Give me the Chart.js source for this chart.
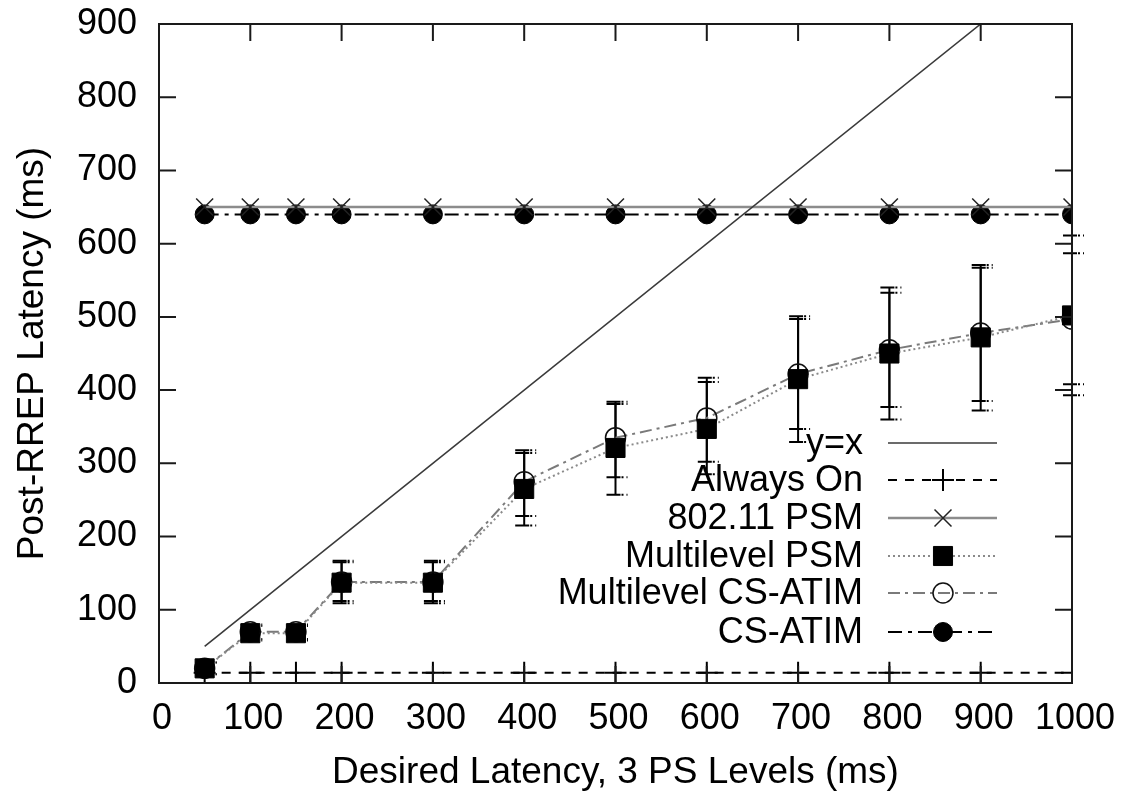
<!DOCTYPE html>
<html><head><meta charset="utf-8">
<script src="https://cdn.jsdelivr.net/npm/chart.js@4/dist/chart.umd.min.js"></script>
<style>html,body{margin:0;padding:0;background:#fff;} #wrap{width:1124px;height:801px;position:relative;}</style>
</head><body><div id="wrap"><canvas id="c" width="1124" height="801"></canvas></div>
<script>
// ---- data ----
const xValues   = [50, 100, 150, 200, 300, 400, 500, 600, 700, 800, 900, 1000];
const yxX       = [50, 900];
const yxY       = [50, 900];
const alwaysOn  = [14, 14, 14, 14, 14, 14, 14, 14, 14, 14, 14, 14];
const psm80211  = [650, 650, 650, 650, 650, 650, 650, 650, 650, 650, 650, 650];
const mlPsm     = [20, 68, 68, 137, 137, 265, 321, 347, 415, 450, 472, 502];
const mlPsmLow  = [12, 58, 58, 109, 109, 215, 257, 285, 329, 360, 372, 393];
const mlPsmHigh = [28, 78, 78, 165, 165, 314, 381, 411, 497, 533, 567, 587];
const mlCs      = [20, 70, 70, 138, 138, 275, 335, 362, 422, 455, 478, 497];
const mlCsLow   = [12, 60, 60, 112, 112, 228, 281, 302, 347, 377, 385, 408];
const mlCsHigh  = [28, 80, 80, 167, 167, 318, 384, 417, 501, 540, 571, 611];
const csAtim    = [640, 640, 640, 640, 640, 640, 640, 640, 640, 640, 640, 640];
const xTicks    = [0, 100, 200, 300, 400, 500, 600, 700, 800, 900, 1000];
const yTicks    = [0, 100, 200, 300, 400, 500, 600, 700, 800, 900];
const seriesNames = ['y=x', 'Always On', '802.11 PSM', 'Multilevel PSM', 'Multilevel CS-ATIM', 'CS-ATIM'];

const FONT = "'Liberation Sans', Arial, Helvetica, sans-serif";
const pts = (xs, ys) => xs.map((x, i) => ({x: x, y: ys[i]}));

const datasets = [
  {label: seriesNames[0], data: pts(yxX, yxY), borderColor: '#3a3a3a', borderWidth: 1.6, pointRadius: 0, gpStyle: 'none'},
  {label: seriesNames[1], data: pts(xValues, alwaysOn), borderColor: '#000', borderWidth: 2, borderDash: [9, 8],
   pointStyle: 'cross', pointRadius: 11, pointBorderColor: '#000', pointBorderWidth: 2, gpStyle: 'cross'},
  {label: seriesNames[2], data: pts(xValues, psm80211), borderColor: '#8c8c8c', borderWidth: 2.5,
   pointStyle: 'crossRot', pointRadius: 12, pointBorderColor: '#222', pointBorderWidth: 1.5, gpStyle: 'crossRot'},
  {label: seriesNames[3], data: pts(xValues, mlPsm), borderColor: '#8a8a8a', borderWidth: 2, borderDash: [2, 3],
   pointStyle: 'rect', pointRadius: 13.5, pointBackgroundColor: '#000', pointBorderColor: '#000', pointBorderWidth: 1, gpStyle: 'rect'},
  {label: seriesNames[4], data: pts(xValues, mlCs), borderColor: '#7a7a7a', borderWidth: 2, borderDash: [12, 5, 3, 5],
   pointStyle: 'circle', pointRadius: 10, pointBackgroundColor: 'rgba(0,0,0,0)', pointBorderColor: '#111', pointBorderWidth: 1.5, gpStyle: 'ocircle'},
  {label: seriesNames[5], data: pts(xValues, csAtim), borderColor: '#000', borderWidth: 2, borderDash: [14, 6, 4, 6],
   pointStyle: 'circle', pointRadius: 9.5, pointBackgroundColor: '#000', pointBorderColor: '#000', pointBorderWidth: 1, gpStyle: 'fcircle'}
];
datasets.forEach(d => { d.fill = false; d.tension = 0; d.pointHoverRadius = d.pointRadius; });

const errorSets = [
  {low: mlPsmLow, high: mlPsmHigh},
  {low: mlCsLow, high: mlCsHigh}
];

const errorBarPlugin = {
  id: 'gpErrorBars',
  beforeDatasetsDraw(chart) {
    const ctx = chart.ctx, xs = chart.scales.x, ys = chart.scales.y;
    ctx.save();
    ctx.strokeStyle = '#000';
    ctx.lineWidth = 2;
    errorSets.forEach(es => {
      xValues.forEach((xv, i) => {
        const px = xs.getPixelForValue(xv);
        const y1 = ys.getPixelForValue(es.low[i]);
        const y2 = ys.getPixelForValue(es.high[i]);
        ctx.setLineDash([]);
        ctx.beginPath();
        ctx.moveTo(px, y1); ctx.lineTo(px, y2);
        ctx.moveTo(px - 9, y1); ctx.lineTo(px + 5, y1);
        ctx.moveTo(px - 9, y2); ctx.lineTo(px + 5, y2);
        ctx.stroke();
        ctx.setLineDash([2, 3]);
        ctx.beginPath();
        ctx.moveTo(px + 6, y1); ctx.lineTo(px + 12, y1);
        ctx.moveTo(px + 6, y2); ctx.lineTo(px + 12, y2);
        ctx.stroke();
      });
    });
    ctx.restore();
  }
};

function drawMarker(ctx, style, x, y, ds) {
  ctx.save();
  ctx.setLineDash([]);
  ctx.lineWidth = ds.pointBorderWidth || 1.5;
  ctx.strokeStyle = ds.pointBorderColor || '#000';
  ctx.fillStyle = ds.pointBackgroundColor || '#000';
  const r = ds.pointRadius;
  ctx.beginPath();
  if (style === 'cross') {
    ctx.moveTo(x - r, y); ctx.lineTo(x + r, y); ctx.moveTo(x, y - r); ctx.lineTo(x, y + r); ctx.stroke();
  } else if (style === 'crossRot') {
    const o = r * Math.SQRT1_2;
    ctx.moveTo(x - o, y - o); ctx.lineTo(x + o, y + o); ctx.moveTo(x - o, y + o); ctx.lineTo(x + o, y - o); ctx.stroke();
  } else if (style === 'rect') {
    const s = r * Math.SQRT1_2;
    ctx.rect(x - s, y - s, 2 * s, 2 * s); ctx.fill(); ctx.stroke();
  } else if (style === 'ocircle') {
    ctx.arc(x, y, r, 0, Math.PI * 2); ctx.stroke();
  } else if (style === 'fcircle') {
    ctx.arc(x, y, r, 0, Math.PI * 2); ctx.fill(); ctx.stroke();
  }
  ctx.restore();
}

const framePlugin = {
  id: 'gpFrame',
  afterDraw(chart) {
    const ctx = chart.ctx, a = chart.chartArea, xs = chart.scales.x, ys = chart.scales.y;
    ctx.save();
    ctx.strokeStyle = '#1a1a1a';
    ctx.lineWidth = 2;
    ctx.setLineDash([]);
    ctx.strokeRect(a.left, a.top, a.right - a.left, a.bottom - a.top);
    ctx.beginPath();
    const L = 17;
    xTicks.forEach(v => {
      const p = xs.getPixelForValue(v);
      ctx.moveTo(p, a.bottom); ctx.lineTo(p, a.bottom - L);
      ctx.moveTo(p, a.top); ctx.lineTo(p, a.top + L);
    });
    yTicks.forEach(v => {
      const p = ys.getPixelForValue(v);
      ctx.moveTo(a.left, p); ctx.lineTo(a.left + L, p);
      ctx.moveTo(a.right, p); ctx.lineTo(a.right - L, p);
    });
    ctx.stroke();

    // legend (gnuplot style)
    const rows = [443, 480, 518, 556, 593, 632];
    const textRight = 863, lineL = 888, lineR = 997, mk = 943;
    ctx.font = '36px ' + FONT;
    ctx.textAlign = 'right';
    ctx.textBaseline = 'middle';
    chart.data.datasets.forEach((ds, i) => {
      const y = rows[i];
      ctx.fillStyle = '#000';
      ctx.fillText(ds.label, textRight, y + 1);
      ctx.save();
      ctx.strokeStyle = ds.borderColor;
      ctx.lineWidth = ds.borderWidth;
      ctx.setLineDash(ds.borderDash || []);
      ctx.beginPath(); ctx.moveTo(lineL, y); ctx.lineTo(lineR, y); ctx.stroke();
      ctx.restore();
      if (ds.gpStyle !== 'none') drawMarker(ctx, ds.gpStyle, mk, y, ds);
    });
    ctx.restore();
  }
};

new Chart(document.getElementById('c'), {
  type: 'line',
  data: {datasets: datasets},
  options: {
    responsive: false,
    animation: false,
    events: [],
    layout: {padding: {top: 24, right: 52, bottom: 0, left: 0}},
    plugins: {legend: {display: false}, tooltip: {enabled: false}},
    scales: {
      x: {
        type: 'linear', min: 0, max: 1000,
        afterBuildTicks: s => { s.ticks = xTicks.map(v => ({value: v})); },
        afterFit: s => { s.height = 118; s.paddingLeft = 0; s.paddingRight = 0; },
        grid: {display: false, drawTicks: false, tickLength: 0},
        border: {display: false},
        ticks: {color: '#000', font: {family: FONT, size: 36}, padding: 14, labelOffset: 3, maxRotation: 0, autoSkip: false,
                callback: v => String(v)},
        title: {display: true, text: 'Desired Latency, 3 PS Levels (ms)', color: '#000', font: {family: FONT, size: 37}, padding: {top: 0, bottom: 6}}
      },
      y: {
        type: 'linear', min: 0, max: 900,
        afterBuildTicks: s => { s.ticks = yTicks.map(v => ({value: v})); },
        afterFit: s => { s.width = 159; s.paddingTop = 0; s.paddingBottom = 0; },
        grid: {display: false, drawTicks: false, tickLength: 0},
        border: {display: false},
        ticks: {color: '#000', font: {family: FONT, size: 36}, padding: 22, autoSkip: false, callback: v => String(v)},
        title: {display: true, text: 'Post-RREP Latency (ms)', color: '#000', font: {family: FONT, size: 37}, padding: {top: 11, bottom: 0}}
      }
    }
  },
  plugins: [errorBarPlugin, framePlugin]
});
</script>
</body></html>
